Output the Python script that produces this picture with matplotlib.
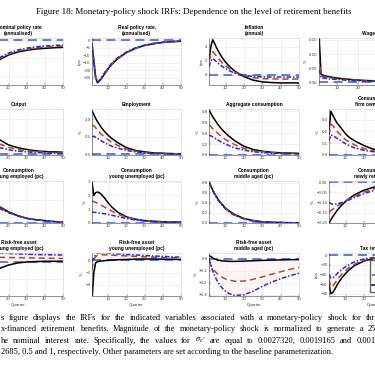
import matplotlib
matplotlib.use('Agg')
import matplotlib.pyplot as plt

W, H = 375, 366

quarters = [1, 2, 3, 4, 5, 6, 8, 10, 12, 15, 20, 25, 30, 35, 40, 45, 50]

# (black solid, brown dashed, blue dash-dot)
nominal_rate = (
    [-25, -23.5, -22, -20.8, -19.6, -18.5, -16.5, -14.6, -13, -11, -8.4, -6.8, -5.8, -5.1, -4.7, -4.4, -4.2],
    [-25, -23.3, -21.7, -20.4, -19.2, -18.1, -16, -14.1, -12.5, -10.5, -7.9, -6.3, -5.2, -4.5, -4.0, -3.7, -3.5],
    [-25, -23.1, -21.4, -20, -18.8, -17.6, -15.5, -13.6, -12, -9.9, -7.3, -5.7, -4.6, -3.9, -3.4, -3.1, -2.9],
)
real_rate = (
    [-3, -14, -25, -28.5, -27.5, -26, -22.5, -19, -16, -12.5, -8.3, -5.4, -3.5, -2.3, -1.5, -1.0, -0.7],
    [-2.5, -14, -25, -28.3, -27.2, -25.6, -22, -18.6, -15.6, -12.2, -8.1, -5.3, -3.4, -2.2, -1.4, -0.9, -0.6],
    [-2, -13.5, -24.5, -28, -27, -25.3, -21.6, -18.2, -15.2, -11.8, -7.8, -5.0, -3.2, -2.1, -1.3, -0.8, -0.5],
)
inflation = (
    [2.1, 4.0, 5.0, 4.5, 3.9, 3.4, 2.5, 1.8, 1.2, 0.5, -0.3, -0.8, -1.05, -1.15, -1.2, -1.2, -1.2],
    [1.9, 2.8, 3.3, 3.0, 2.7, 2.35, 1.75, 1.25, 0.85, 0.35, -0.15, -0.45, -0.58, -0.62, -0.65, -0.65, -0.65],
    [1.1, 1.9, 2.3, 2.1, 1.85, 1.6, 1.2, 0.85, 0.55, 0.2, -0.1, -0.28, -0.33, -0.35, -0.36, -0.36, -0.36],
)
wage = (
    [0.17, 0.028, 0.025, 0.023, 0.021, 0.02, 0.017, 0.015, 0.013, 0.011, 0.008, 0.006, 0.005, 0.004, 0.003, 0.003, 0.002],
    [0.09, 0.022, 0.02, 0.018, 0.017, 0.016, 0.014, 0.012, 0.011, 0.009, 0.007, 0.005, 0.004, 0.003, 0.003, 0.002, 0.002],
    [0.045, 0.016, 0.015, 0.014, 0.013, 0.012, 0.011, 0.01, 0.009, 0.007, 0.005, 0.004, 0.003, 0.002, 0.002, 0.002, 0.001],
)
output = (
    [1.3, 1.2, 1.1, 1.02, 0.95, 0.88, 0.76, 0.65, 0.56, 0.42, 0.27, 0.19, 0.14, 0.1, 0.08, 0.07, 0.06],
    [0.9, 0.85, 0.78, 0.72, 0.66, 0.61, 0.53, 0.45, 0.39, 0.3, 0.2, 0.14, 0.1, 0.08, 0.06, 0.05, 0.04],
    [0.55, 0.53, 0.5, 0.46, 0.43, 0.4, 0.34, 0.29, 0.25, 0.19, 0.13, 0.09, 0.07, 0.05, 0.04, 0.03, 0.03],
)
employment = (
    [1.25, 1.14, 1.03, 0.94, 0.86, 0.78, 0.65, 0.54, 0.45, 0.34, 0.19, 0.11, 0.07, 0.04, 0.03, 0.02, 0.01],
    [0.83, 0.82, 0.76, 0.70, 0.64, 0.58, 0.49, 0.41, 0.34, 0.26, 0.15, 0.09, 0.05, 0.03, 0.02, 0.01, 0.01],
    [0.5, 0.52, 0.49, 0.46, 0.42, 0.39, 0.33, 0.28, 0.23, 0.18, 0.11, 0.07, 0.04, 0.03, 0.02, 0.01, 0.01],
)
agg_consumption = (
    [0.82, 0.76, 0.7, 0.65, 0.6, 0.55, 0.47, 0.4, 0.34, 0.26, 0.16, 0.1, 0.07, 0.05, 0.04, 0.035, 0.03],
    [0.55, 0.52, 0.48, 0.45, 0.42, 0.39, 0.33, 0.28, 0.24, 0.19, 0.12, 0.08, 0.06, 0.045, 0.035, 0.03, 0.03],
    [0.36, 0.35, 0.33, 0.31, 0.29, 0.27, 0.23, 0.2, 0.17, 0.13, 0.09, 0.06, 0.045, 0.035, 0.03, 0.025, 0.02],
)
cons_firm_owners = (
    [0.2, 0.37, 0.34, 0.31, 0.28, 0.26, 0.22, 0.18, 0.15, 0.12, 0.08, 0.05, 0.035, 0.025, 0.02, 0.015, 0.01],
    [0.17, 0.26, 0.25, 0.23, 0.21, 0.19, 0.16, 0.13, 0.11, 0.085, 0.055, 0.035, 0.025, 0.018, 0.014, 0.01, 0.008],
    [0.12, 0.17, 0.165, 0.155, 0.145, 0.135, 0.115, 0.095, 0.08, 0.06, 0.04, 0.028, 0.02, 0.015, 0.011, 0.009, 0.007],
)
cons_young_emp = (
    [0.85, 0.8, 0.75, 0.7, 0.66, 0.62, 0.55, 0.48, 0.42, 0.35, 0.24, 0.16, 0.1, 0.07, 0.05, 0.03, 0.02],
    [0.83, 0.78, 0.73, 0.68, 0.64, 0.6, 0.53, 0.46, 0.4, 0.33, 0.23, 0.15, 0.1, 0.07, 0.05, 0.03, 0.02],
    [0.8, 0.75, 0.7, 0.66, 0.62, 0.58, 0.51, 0.44, 0.38, 0.31, 0.22, 0.15, 0.1, 0.07, 0.05, 0.03, 0.02],
)
cons_young_unemp = (
    [3.0, 2.0, 2.2, 2.25, 2.2, 2.1, 1.8, 1.45, 1.15, 0.8, 0.45, 0.27, 0.17, 0.12, 0.09, 0.07, 0.06],
    [1.6, 1.55, 1.5, 1.45, 1.38, 1.3, 1.15, 1.0, 0.85, 0.65, 0.42, 0.27, 0.17, 0.12, 0.09, 0.07, 0.06],
    [0.8, 0.78, 0.76, 0.74, 0.72, 0.7, 0.67, 0.62, 0.56, 0.47, 0.33, 0.22, 0.15, 0.11, 0.08, 0.06, 0.05],
)
cons_middle = (
    [0.83, 0.74, 0.66, 0.59, 0.53, 0.47, 0.38, 0.3, 0.24, 0.17, 0.09, 0.05, 0.025, 0.015, 0.01, 0.005, 0.003],
    [0.83, 0.74, 0.66, 0.59, 0.52, 0.46, 0.37, 0.29, 0.23, 0.16, 0.085, 0.045, 0.022, 0.013, 0.009, 0.005, 0.003],
    [0.83, 0.73, 0.65, 0.58, 0.51, 0.45, 0.36, 0.28, 0.22, 0.15, 0.08, 0.04, 0.02, 0.01, 0.008, 0.005, 0.003],
)
cons_retired = (
    [-0.2, -0.185, -0.17, -0.157, -0.144, -0.132, -0.112, -0.095, -0.08, -0.062, -0.04, -0.026, -0.017, -0.011, -0.008, -0.005, -0.004],
    [-0.145, -0.14, -0.133, -0.126, -0.12, -0.114, -0.102, -0.092, -0.082, -0.068, -0.049, -0.034, -0.024, -0.017, -0.012, -0.008, -0.006],
    [-0.1, -0.105, -0.108, -0.108, -0.107, -0.105, -0.1, -0.094, -0.087, -0.075, -0.057, -0.042, -0.03, -0.021, -0.015, -0.011, -0.008],
)
rf_young_emp = (
    [-1.0, -0.93, -0.84, -0.75, -0.67, -0.6, -0.48, -0.38, -0.3, -0.2, -0.1, -0.04, -0.01, 0.0, 0.01, 0.01, 0.01],
    [0.05, 0.09, 0.11, 0.12, 0.13, 0.13, 0.13, 0.13, 0.13, 0.125, 0.12, 0.115, 0.11, 0.105, 0.1, 0.095, 0.09],
    [0.1, 0.17, 0.21, 0.23, 0.24, 0.245, 0.25, 0.25, 0.25, 0.245, 0.235, 0.225, 0.215, 0.205, 0.2, 0.195, 0.19],
)
rf_young_unemp = (
    [-6.5, -2.0, -0.4, -0.2, -0.15, -0.1, -0.05, 0.0, 0.05, 0.1, 0.15, 0.2, 0.22, 0.22, 0.2, 0.18, 0.15],
    [-1.5, 0.2, 0.6, 0.8, 0.9, 0.92, 0.9, 0.87, 0.84, 0.8, 0.72, 0.65, 0.58, 0.52, 0.46, 0.42, 0.38],
    [-0.3, 0.5, 0.9, 1.1, 1.2, 1.22, 1.2, 1.16, 1.12, 1.06, 0.97, 0.88, 0.8, 0.72, 0.65, 0.58, 0.52],
)
rf_middle = (
    [0.03, 0.02, 0.01, 0.0, -0.005, -0.01, -0.015, -0.018, -0.02, -0.02, -0.018, -0.015, -0.012, -0.01, -0.008, -0.006, -0.005],
    [-0.02, -0.05, -0.08, -0.1, -0.115, -0.13, -0.152, -0.168, -0.178, -0.186, -0.185, -0.17, -0.15, -0.128, -0.107, -0.087, -0.07],
    [0.0, -0.05, -0.1, -0.14, -0.17, -0.2, -0.24, -0.27, -0.29, -0.305, -0.3, -0.27, -0.23, -0.195, -0.165, -0.14, -0.12],
)
tax = (
    [-60, -80, -78, -72, -65, -58, -47, -38, -30, -21, -12, -7, -4, -2.5, -1.5, -1, -0.5],
    [-50, -66, -64, -59, -54, -48, -39, -32, -25, -18, -10, -6, -3.5, -2, -1.2, -0.8, -0.4],
    [-40, -48, -47, -44, -40, -36, -29, -24, -19, -13, -7.5, -4.5, -2.5, -1.5, -1, -0.6, -0.3],
)
legend_labels = ['$\\phi$ = 0.2685', '$\\phi$ = 0.5', '$\\phi$ = 1']

# caption lines as they show in the crop: (text, visible part of the last word)
caption = [
    ('s figure displays the IRFs for the indicated variables associated with a monetary-policy shock for three', 'thr'),
    ('x-financed retirement benefits. Magnitude of the monetary-policy shock is normalized to generate a 25', '25'),
    ('he nominal interest rate. Specifically, the values for $\\sigma_{\\epsilon^r}$ are equal to 0.0027320, 0.0019165 and 0.0014', '0.001'),
]
caption_last = '2685, 0.5 and 1, respectively. Other parameters are set according to the baseline parameterization.'

cols = [(-26, 63), (92, 181), (209, 299), (329, 419)]
rows = [(38, 85), (109, 155), (181, 223), (253, 296)]

panels = [
    ('Nominal policy rate\n(annualised)', nominal_rate, (-25, 1), [-20, -10, 0], 'bps'),
    ('Real policy rate,\n(annualised)', real_rate, (-30, 1.5), [-25, -20, -15, -10, -5, 0], 'bps'),
    ('Inflation\n(annual)', inflation, (-1.5, 5.25), [0, 2, 4], 'bps'),
    ('Wage', wage, (-0.0096, 0.157), [0, 0.05, 0.1, 0.15], '%'),
    ('Output', output, (-0.02, 1.3), [0, 0.5, 1], '%'),
    ('Employment', employment, (-0.02, 1.3), [0, 0.5, 1], '%'),
    ('Aggregate consumption', agg_consumption, (0, 0.84), [0, 0.2, 0.4, 0.6, 0.8], '%'),
    ('Consumption\nfirm owners (pc)', cons_firm_owners, (0, 0.39), [0, 0.1, 0.2, 0.3], '%'),
    ('Consumption\nyoung employed (pc)', cons_young_emp, (0, 0.9), [0, 0.5], '%'),
    ('Consumption\nyoung unemployed (pc)', cons_young_unemp, (0, 3.05), [0, 1, 2, 3], '%'),
    ('Consumption\nmiddle aged (pc)', cons_middle, (0, 0.84), [0, 0.2, 0.4, 0.6, 0.8], '%'),
    ('Consumption\nnewly retired (pc)', cons_retired, (-0.2, 0.005), [-0.2, -0.15, -0.1, -0.05, 0], '%'),
    ('Risk-free asset\nyoung employed (pc)', rf_young_emp, (-1.0, 0.25), [-1, -0.5, 0], '%'),
    ('Risk-free asset\nyoung unemployed (pc)', rf_young_unemp, (-5.8, 1.2), [-4, -2, 0], '%'),
    ('Risk-free asset\nmiddle aged (pc)', rf_middle, (-0.31, 0.05), [-0.3, -0.2, -0.1, 0], '%'),
    ('Tax revenue', tax, (-85, 5), [-80, -60, -40, -20, 0], 'bps'),
]

plt.rcParams['font.family'] = ['Liberation Sans', 'DejaVu Sans']
plt.rcParams['mathtext.fontset'] = 'stix'
fig = plt.figure(figsize=(W / 100, H / 100), dpi=100)
fig.patch.set_facecolor('white')

zero_col = '#3a5fcd'
styles = [dict(color='black', ls='-', lw=1.1),
          dict(color='#a0522d', ls=(0, (4, 2.5)), lw=1.1),
          dict(color='#2a2ad0', ls=(0, (3, 1.2, 1, 1.2)), lw=1.1)]

for i, (title, series, ylim, yticks, ylabel) in enumerate(panels):
    r, c = divmod(i, 4)
    l, rt = cols[c]
    if i == 3:
        l = 319
    t, b = rows[r]
    ax = fig.add_axes([l / W, 1 - b / H, (rt - l) / W, (b - t) / H])
    lo = [min(v) for v in zip(*series)]
    hi = [max(v) for v in zip(*series)]
    ax.fill_between(quarters, lo, hi, color='#ffe8ec', alpha=0.45, lw=0)
    ax.axhline(0, color=zero_col, ls=(0, (5, 3)), lw=1.3, alpha=0.85)
    for s, st in zip(series, styles):
        ax.plot(quarters, s, **st)
    ax.set_xlim(1, 50)
    ax.set_ylim(*ylim)
    ax.set_xticks([10, 20, 30, 40, 50])
    ax.set_yticks(yticks)
    ax.grid(True, color='#e6e6e6', lw=0.4)
    ax.set_axisbelow(True)
    ax.tick_params(labelsize=3.2, length=1.2, width=0.3, direction='in', pad=1, colors='#404040')
    for side in ['top', 'right']:
        ax.spines[side].set_color('#d0d0d0')
    for sp in ax.spines.values():
        sp.set_linewidth(0.4)
    ax.spines['left'].set_color('#404040')
    ax.spines['bottom'].set_color('#404040')
    ax.set_ylabel(ylabel, fontsize=3.2, labelpad=1, color='#404040')
    ax.set_title(title, fontsize=3.5, fontweight='bold', pad=2, linespacing=1.2)
    if r == 3:
        ax.set_xlabel('Quarter', fontsize=3.2, labelpad=1, color='#404040')
    if i == 15:
        ax.legend(legend_labels, loc='lower left', bbox_to_anchor=(368 / W, 1 - 294 / H),
                  bbox_transform=fig.transFigure, fontsize=3.2, handlelength=3,
                  frameon=True, edgecolor='#404040', fancybox=False, borderpad=0.4)

fig.text(0.517, 1 - 12 / H, 'Figure 18: Monetary-policy shock IRFs: Dependence on the level of retirement benefits',
         ha='center', va='center', fontsize=6.4, family='Liberation Serif')

renderer = fig.canvas.get_renderer()


def text_width(s, size):
    t = fig.text(0, 0, s, family='Liberation Serif', fontsize=size)
    w = t.get_window_extent(renderer).width
    t.remove()
    return w


# the last caption line is not justified: its natural length fixes the font size
cap_size = 10 * 327 / text_width(caption_last, 10)
serif = dict(family='Liberation Serif', fontsize=cap_size, va='center', ha='left')
fig.text(1 / W, 1 - (318 + 11.3 * 3) / H, caption_last, **serif)

# justified lines: spread the words so the visible part ends at the right edge
for k, (line, shown) in enumerate(caption):
    y = 1 - (318 + 11.3 * k) / H
    words = line.split(' ')
    widths = [text_width(w, cap_size) for w in words]
    end = W + 0.5 + widths[-1] - text_width(shown, cap_size)
    gap = (end - 1 - sum(widths)) / (len(words) - 1)
    x = 1
    for w, wd in zip(words, widths):
        fig.text(x / W, y, w, **serif)
        x += wd + gap

fig.savefig('out.png', dpi=100)
